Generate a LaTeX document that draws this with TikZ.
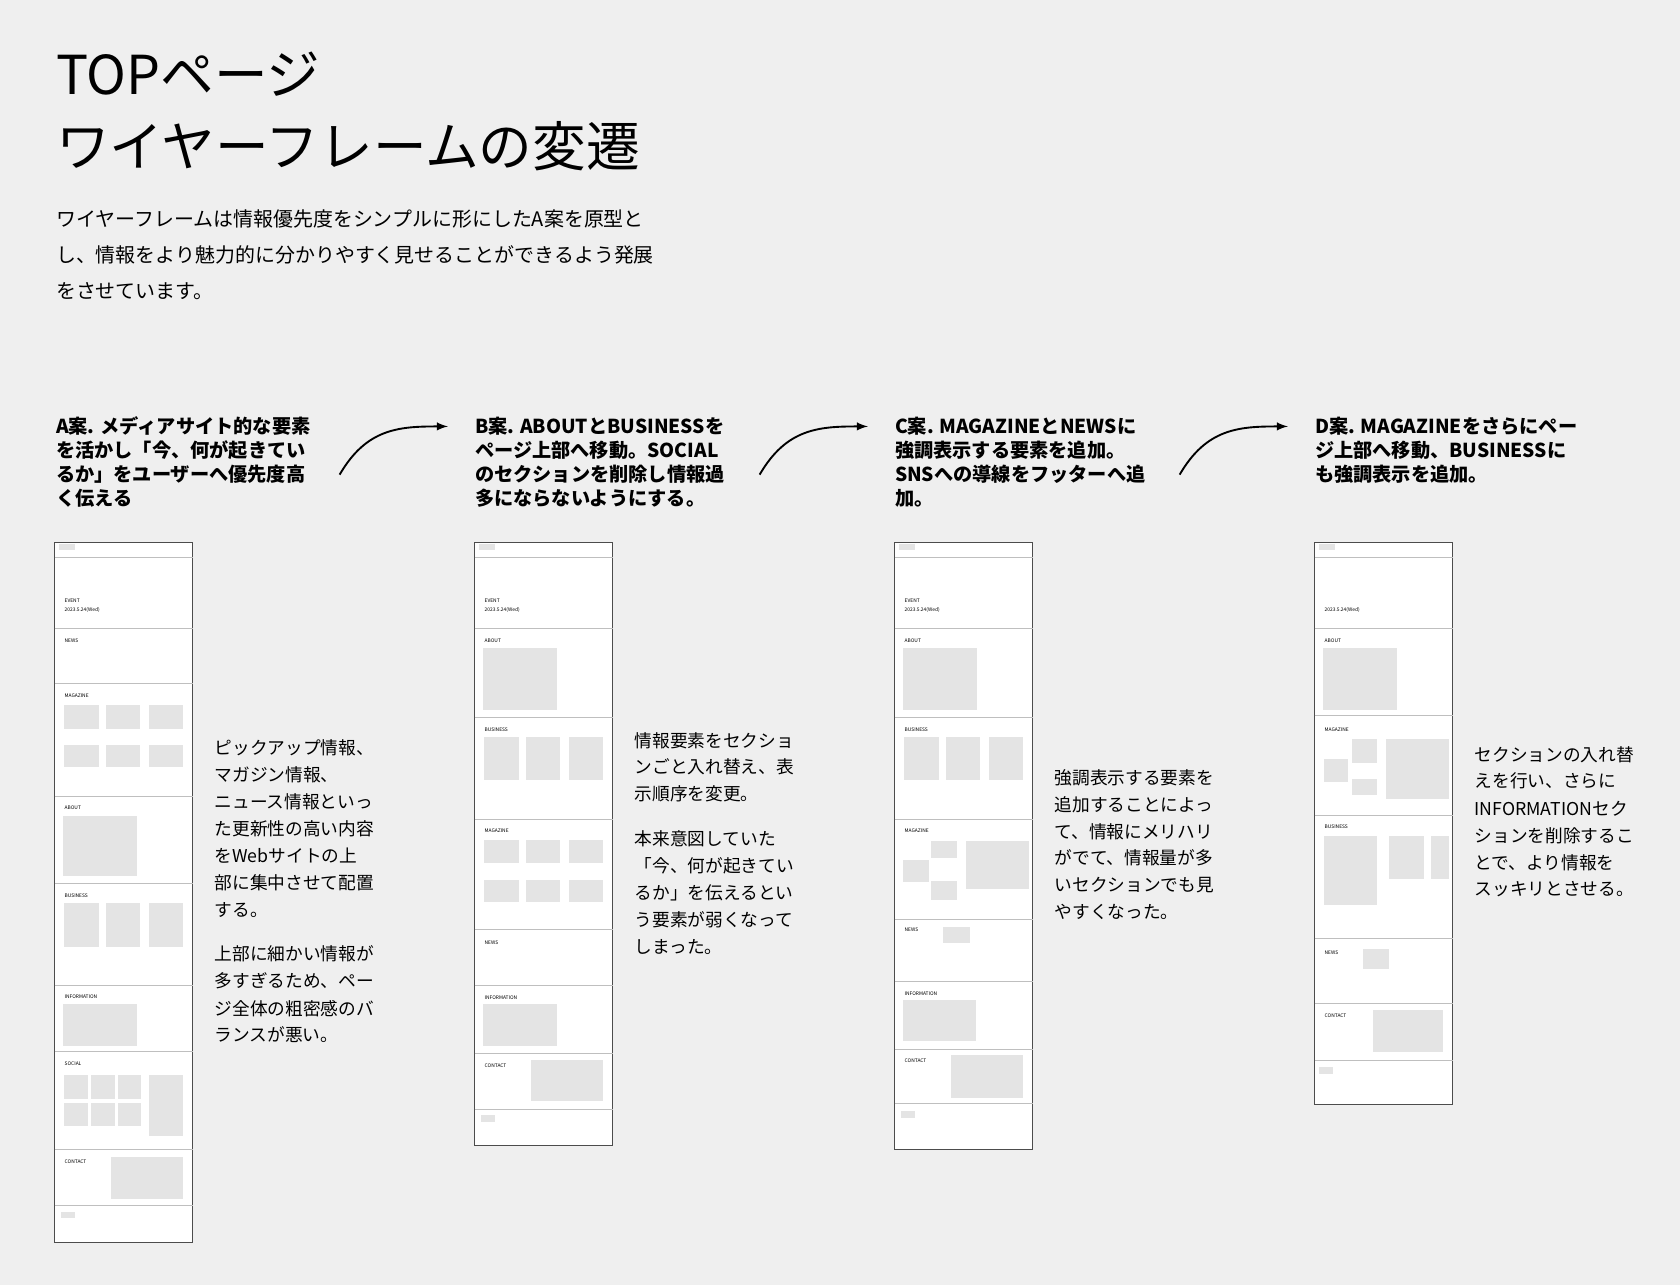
\documentclass[tikz,border=0pt]{standalone}
\usepackage{fontspec}
\setmainfont{Noto Sans CJK JP}
\usetikzlibrary{positioning, calc}
\definecolor{bgcol}{HTML}{EFEFEF}
\definecolor{boxcol}{HTML}{E4E4E4}
\tikzset{zeile/.style={anchor=west, inner sep=0, font=\fontsize{9.4}{10}\selectfont},
	kopf/.style={anchor=west, inner sep=0, font=\fontsize{10.2}{11}\selectfont\bfseries},
	rahmen/.style={draw=black!70, fill=white, line width=0.5pt},
	feld/.style={fill=boxcol, draw=none},
	trenner/.style={draw=black!25, line width=0.3pt},
	mini/.style={anchor=west, inner sep=0, font=\fontsize{2.6}{3}\selectfont},
	pfeil/.style={->, >=latex, line width=1pt} }
\begin{document}
\begin{tikzpicture}[x=0.02cm, y=-0.02cm]
	\fill[bgcol] (0,0) rectangle (1568,1199);
	% title and lead
	\node[anchor=base west, inner sep=0, font=\fontsize{28.5}{30}\selectfont] (t1) at (52,88) {TOPページ};
	\node[anchor=base west, inner sep=0, font=\fontsize{28.5}{30}\selectfont] (t2) at (52,155) {ワイヤーフレームの変遷};
	\foreach \y/\txt in {204/ワイヤーフレームは情報優先度をシンプルに形にしたA案を原型と,
		238/し、情報をより魅力的に分かりやすく見せることができるよう発展,
		272/をさせています。}
		\node[zeile, font=\fontsize{10.6}{11}\selectfont] at (52,\y) {\txt};
	% column headers
	\foreach \y/\txt in {398/A案. メディアサイト的な要素, 420/を活かし「今、何が起きてい, 443/るか」をユーザーへ優先度高, 465/く伝える}
		\node[kopf] at (52,\y) {\txt};
	\foreach \y/\txt in {398/B案. ABOUTとBUSINESSを, 420/ページ上部へ移動。SOCIAL, 443/のセクションを削除し情報過, 465/多にならないようにする。}
		\node[kopf] at (443,\y) {\txt};
	\foreach \y/\txt in {398/C案. MAGAZINEとNEWSに, 420/強調表示する要素を追加。, 443/SNSへの導線をフッターへ追, 465/加。}
		\node[kopf] at (835,\y) {\txt};
	\foreach \y/\txt in {398/D案. MAGAZINEをさらにペー, 420/ジ上部へ移動、BUSINESSに, 443/も強調表示を追加。}
		\node[kopf] at (1227,\y) {\txt};
	% arrows
	\foreach \x [count=\i] in {317,709,1101} {
		\coordinate (s\i) at (\x,443);
		\coordinate (e\i) at (\x+101,398);
		\draw[pfeil] (s\i) .. controls (\x+25,400) and (\x+55,398) .. (e\i);
	}
	% side notes
	\foreach \y/\txt in {698/ピックアップ情報、, 723/マガジン情報、, 748/ニュース情報といっ, 774/た更新性の高い内容, 799/をWebサイトの上, 824/部に集中させて配置, 849/する。,
		890/上部に細かい情報が, 915/多すぎるため、ペー, 941/ジ全体の粗密感のバ, 966/ランスが悪い。}
		\node[zeile] at (200,\y) {\txt};
	\foreach \y/\txt in {691/情報要素をセクショ, 716/ンごと入れ替え、表, 741/示順序を変更。,
		783/本来意図していた, 808/「今、何が起きてい, 833/るか」を伝えるとい, 858/う要素が弱くなって, 884/しまった。}
		\node[zeile] at (592,\y) {\txt};
	\foreach \y/\txt in {726/強調表示する要素を, 751/追加することによっ, 776/て、情報にメリハリ, 801/がでて、情報量が多, 826/いセクションでも見, 851/やすくなった。}
		\node[zeile] at (984,\y) {\txt};
	\foreach \y/\txt in {704/セクションの入れ替, 729/えを行い、さらに, 755/INFORMATIONセク, 780/ションを削除するこ, 805/とで、より情報を, 830/スッキリとさせる。}
		\node[zeile] at (1376,\y) {\txt};
	% wireframe A
	\draw[rahmen] (51,506) rectangle (180,1160);
	\foreach \y in {520,586,638,743,824,920,981,1073,1125} \draw[trenner] (51,\y) -- (180,\y);
	\foreach \y/\txt in {561/EVENT, 598/NEWS, 649/MAGAZINE, 754/ABOUT, 836/BUSINESS, 930/INFORMATION, 993/SOCIAL, 1084/CONTACT}
		\node[mini] at (60,\y) {\txt};
	\node[mini] at (60,569) {2023.5.24(Wed)};
	\fill[boxcol] (55,508) rectangle (70,513);
	\foreach \x in {60,99,139} {
		\fill[feld] (\x,658) rectangle +(32,22);
		\fill[feld] (\x,695) rectangle +(32,21);
		\fill[feld] (\x,843) rectangle +(32,41);
	}
	\fill[feld] (59,762) rectangle (128,818);
	\fill[feld] (59,937) rectangle (128,976);
	\foreach \x in {60,85,110} {
		\fill[feld] (\x,1003) rectangle +(22,23);
		\fill[feld] (\x,1029) rectangle +(22,22);
	}
	\fill[feld] (139,1003) rectangle (171,1060);
	\fill[feld] (104,1080) rectangle (171,1119);
	\fill[feld] (57,1131) rectangle (70,1137);
	% wireframe B
	\draw[rahmen] (443,506) rectangle (572,1069);
	\foreach \y in {520,586,669,765,867,920,983,1035} \draw[trenner] (443,\y) -- (572,\y);
	\foreach \y/\txt in {561/EVENT, 598/ABOUT, 681/BUSINESS, 775/MAGAZINE, 880/NEWS, 931/INFORMATION, 995/CONTACT}
		\node[mini] at (452,\y) {\txt};
	\node[mini] at (452,569) {2023.5.24(Wed)};
	\fill[boxcol] (447,508) rectangle (462,513);
	\fill[feld] (451,605) rectangle (520,663);
	\foreach \x in {452,491,531} {
		\fill[feld] (\x,688) rectangle +(32,40);
		\fill[feld] (\x,784) rectangle +(32,21);
		\fill[feld] (\x,821) rectangle +(32,21);
	}
	\fill[feld] (451,937) rectangle (520,976);
	\fill[feld] (496,989) rectangle (563,1028);
	\fill[feld] (449,1041) rectangle (462,1047);
	% wireframe C
	\draw[rahmen] (835,506) rectangle (964,1073);
	\foreach \y in {520,586,669,765,858,916,979,1030} \draw[trenner] (835,\y) -- (964,\y);
	\foreach \y/\txt in {561/EVENT, 598/ABOUT, 681/BUSINESS, 775/MAGAZINE, 868/NEWS, 927/INFORMATION, 990/CONTACT}
		\node[mini] at (844,\y) {\txt};
	\node[mini] at (844,569) {2023.5.24(Wed)};
	\fill[boxcol] (839,508) rectangle (854,513);
	\fill[feld] (843,605) rectangle (912,663);
	\foreach \x in {844,883,923} \fill[feld] (\x,688) rectangle +(32,40);
	\fill[feld] (843,803) rectangle (867,823);
	\fill[feld] (869,785) rectangle (893,801);
	\fill[feld] (869,822) rectangle (893,840);
	\fill[feld] (902,785) rectangle (960,830);
	\fill[feld] (880,865) rectangle (905,880);
	\fill[feld] (843,933) rectangle (911,972);
	\fill[feld] (888,985) rectangle (955,1025);
	\fill[feld] (841,1037) rectangle (854,1043);
	% wireframe D
	\draw[rahmen] (1227,506) rectangle (1356,1031);
	\foreach \y in {520,586,668,761,876,936,990} \draw[trenner] (1227,\y) -- (1356,\y);
	\foreach \y/\txt in {598/ABOUT, 681/MAGAZINE, 772/BUSINESS, 889/NEWS, 948/CONTACT}
		\node[mini] at (1236,\y) {\txt};
	\node[mini] at (1236,569) {2023.5.24(Wed)};
	\fill[boxcol] (1231,508) rectangle (1246,513);
	\fill[feld] (1235,605) rectangle (1304,663);
	\fill[feld] (1236,708) rectangle (1258,730);
	\fill[feld] (1262,690) rectangle (1285,712);
	\fill[feld] (1262,727) rectangle (1285,742);
	\fill[feld] (1294,690) rectangle (1352,746);
	\fill[feld] (1236,780) rectangle (1285,845);
	\fill[feld] (1296,780) rectangle (1329,820);
	\fill[feld] (1336,780) rectangle (1352,820);
	\fill[feld] (1272,886) rectangle (1296,904);
	\fill[feld] (1281,943) rectangle (1347,982);
	\fill[feld] (1231,996) rectangle (1244,1002);
\end{tikzpicture}
\end{document}
